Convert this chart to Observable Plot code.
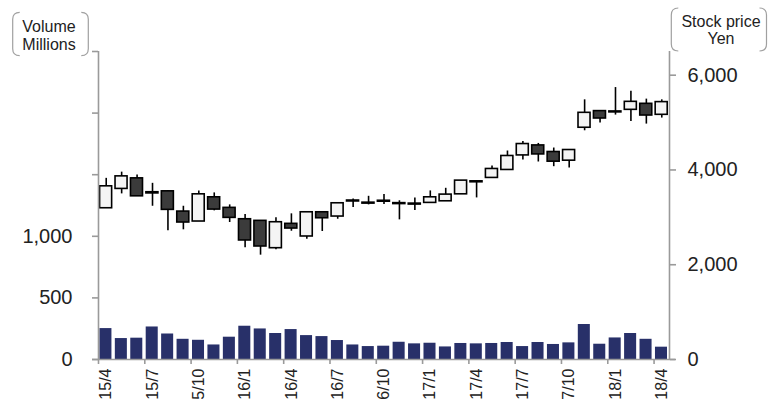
<!DOCTYPE html>
<html>
<head>
<meta charset="utf-8">
<script src="https://cdn.jsdelivr.net/npm/d3@7"></script>
<script src="https://cdn.jsdelivr.net/npm/@observablehq/plot@0.6"></script>
<style>
  html, body { margin: 0; padding: 0; background: #fff; }
  #chart svg { display: block; }
</style>
</head>
<body>
<div id="chart"></div>
<script>
const months = ["15/4","15/5","15/6","15/7","15/8","15/9","15/10","15/11","15/12",
  "16/1","16/2","16/3","16/4","16/5","16/6","16/7","16/8","16/9","16/10","16/11","16/12",
  "17/1","17/2","17/3","17/4","17/5","17/6","17/7","17/8","17/9","17/10","17/11","17/12",
  "18/1","18/2","18/3","18/4"];
const open  = [3192,3600,3823,3530,3549,3122,2912,3423,3200,2960,2926,2349,2863,2596,3107,3017,3355,3310,3350,3300,3290,3305,3339,3486,3760,3832,4000,4307,4518,4379,4196,4891,5242,5235,5269,5396,5164];
const high  = [3823,3954,3895,3718,3560,3234,3558,3516,3263,3059,2926,2989,3074,3107,3120,3297,3389,3444,3480,3350,3410,3558,3613,3775,3768,4084,4400,4602,4560,4463,4421,5480,5242,5739,5663,5495,5480];
const low   = [3192,3495,3444,3234,2716,2737,2912,3137,2891,2358,2202,2316,2707,2539,2701,2960,3206,3263,3270,2947,3143,3305,3339,3486,3410,3832,4000,4211,4168,4069,4042,4827,4989,5158,5023,4968,5095];
const close = [3655,3865,3444,3505,3158,2891,3486,3164,2989,2512,2385,2897,2764,3107,2981,3297,3335,3290,3330,3280,3270,3423,3480,3775,3740,4021,4295,4547,4328,4175,4421,5206,5086,5215,5438,5149,5432];
const volume = [251,170,173,264,207,164,156,118,181,270,248,211,243,194,186,154,118,105,108,140,127,132,102,130,127,130,138,105,138,122,135,284,124,175,211,164,100];
const tickLabels = ["15/4","15/7","5/10","16/1","16/4","16/7","6/10","17/1","17/4","17/7","7/10","18/1","18/4"];
const volTicks = [0,500,1000,1500,2000,2500];
const volLabeled = [0,500,1000];
const priceTicks = [0,2000,4000,6000];

const priceMax = 6500, volMax = 2500, k = priceMax / volMax;
const data = months.map((m, i) => ({
  i, m, open: open[i], high: high[i], low: low[i], close: close[i],
  vol: volume[i] * k, up: close[i] >= open[i]
}));
const tickIdx = tickLabels.map((_, j) => j * 3);
const grey = "#9a9a9a", ink = "#222";

const chart = Plot.plot({
  width: 768, height: 410,
  marginLeft: 98, marginRight: 99, marginTop: 51, marginBottom: 51,
  style: { fontFamily: "'Liberation Sans', Arial, sans-serif", background: "#fff", color: ink },
  x: { type: "linear", domain: [0, months.length], axis: null },
  y: { domain: [0, priceMax], axis: null },
  marks: [
    Plot.rectY(data, { x1: "i", x2: d => d.i + 1, y1: 0, y2: "vol", fill: "#283069", insetLeft: 1.4, insetRight: 2 }),
    Plot.ruleX(data, { x: d => d.i + 0.5, y1: "low", y2: "high", stroke: "#000", strokeWidth: 1.6 }),
    Plot.rectY(data, { x1: "i", x2: d => d.i + 1, y1: "open", y2: "close",
      fill: d => d.up ? "#f4f4f4" : "#3b3b3b", stroke: "#000", strokeWidth: 1.6,
      insetLeft: 1.6, insetRight: 1.8 }),
    Plot.ruleX([0, months.length], { stroke: grey, strokeWidth: 1.6 }),
    Plot.ruleY([0], { stroke: grey, strokeWidth: 1.6, insetLeft: -6, insetRight: -6 }),
    Plot.axisY({ anchor: "left", ticks: volTicks.map(v => v * k), tickSize: 6, tickPadding: 20,
      tickFormat: d => { const v = Math.round(d / k); return volLabeled.includes(v) ? d3.format(",")(v) : ""; },
      stroke: grey, strokeWidth: 1.6, fill: ink, fontSize: 20, label: null }),
    Plot.axisY({ anchor: "right", ticks: priceTicks, tickSize: 6, tickPadding: 12,
      tickFormat: d3.format(","), stroke: grey, strokeWidth: 1.6, fill: ink, fontSize: 20, label: null }),
    Plot.axisX({ anchor: "bottom", ticks: tickIdx, tickSize: 5, tickFormat: () => "",
      stroke: grey, strokeWidth: 1.6, label: null }),
    Plot.axisX({ anchor: "bottom", ticks: tickIdx.map(t => t + 0.5), tickSize: 0, tickPadding: 9,
      tickRotate: -90, tickFormat: d => tickLabels[Math.round((d - 0.5) / 3)],
      fill: ink, fontSize: 16, label: null })
  ]
});
document.getElementById("chart").appendChild(chart);

// header boxes (bracket-style) with axis titles
const svg = d3.select(chart);
function bracket(x1, x2, y1, y2, r) {
  return `M${x1 + r},${y1} Q${x1},${y1} ${x1},${y1 + r} L${x1},${y2 - r} Q${x1},${y2} ${x1 + r},${y2}` +
         ` M${x2 - r},${y1} Q${x2},${y1} ${x2},${y1 + r} L${x2},${y2 - r} Q${x2},${y2} ${x2 - r},${y2}`;
}
const hdr = [
  { x1: 12.7, x2: 88.3, y1: 12.3, y2: 55.7, cx: 49, lines: ["Volume", "Millions"], base: [31.7, 50] },
  { x1: 671.3, x2: 766.5, y1: 8, y2: 51, cx: 721, lines: ["Stock price", "Yen"], base: [26.7, 44] }
];
for (const h of hdr) {
  svg.append("path").attr("d", bracket(h.x1, h.x2, h.y1, h.y2, 7))
    .attr("fill", "none").attr("stroke", "#a0a0a0").attr("stroke-width", 1.2);
  h.lines.forEach((t, j) => {
    svg.append("text").attr("x", h.cx).attr("y", h.base[j]).attr("text-anchor", "middle")
      .attr("font-size", 16).attr("fill", ink)
      .attr("font-family", "'Liberation Sans', Arial, sans-serif").text(t);
  });
}
</script>
</body>
</html>
